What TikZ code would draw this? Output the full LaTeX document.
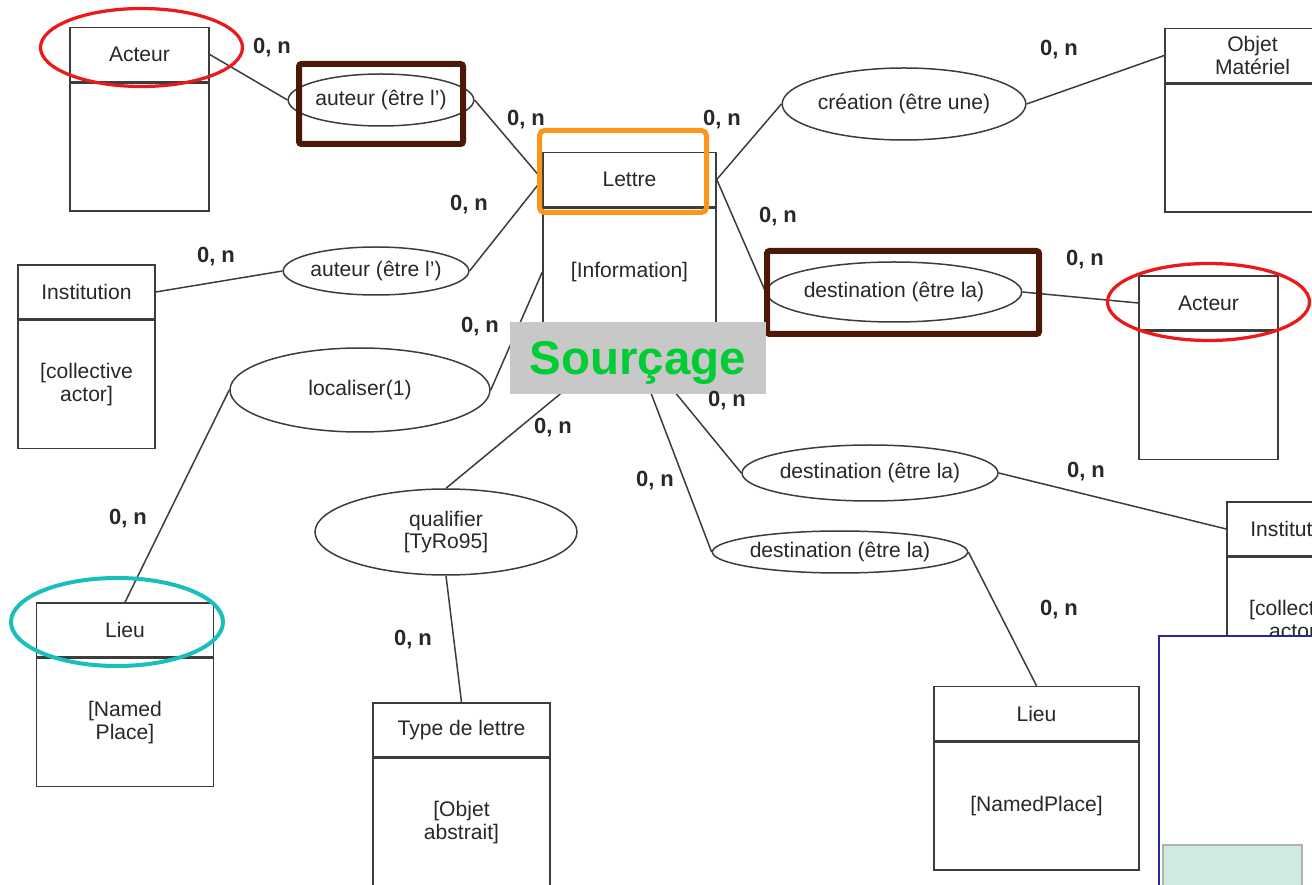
\documentclass[tikz,border=0pt]{standalone}
\usepackage{fontspec}
\setmainfont{Liberation Sans}
\usepackage{xcolor}
\usetikzlibrary{shapes.geometric}
\usetikzlibrary{positioning}

\definecolor{linegray}{RGB}{60,60,60}
\definecolor{textgray}{RGB}{40,40,40}
\definecolor{hlred}{RGB}{235,25,25}
\definecolor{hlbrown}{RGB}{75,25,5}
\definecolor{hlorange}{RGB}{250,150,25}
\definecolor{hlcyan}{RGB}{25,190,190}
\definecolor{srcgreen}{RGB}{0,204,51}
\definecolor{srcgray}{RGB}{200,200,200}
\definecolor{framenavy}{RGB}{40,40,150}
\definecolor{tealfill}{RGB}{208,234,224}

\newcommand{\pxu}{0.2mm}

\begin{document}
\begin{tikzpicture}[x=0.2mm, y=-0.2mm]

% Define styles
\tikzset{
    ehead/.style={draw=linegray, line width=0.3mm, minimum width=#1*\pxu, minimum height=54*\pxu, inner sep=0pt, align=center, text=textgray, font=\fontsize{12}{13}\selectfont},
    ebody/.style={draw=linegray, line width=0.3mm, minimum width=#1*\pxu, minimum height=128*\pxu, inner sep=0pt, align=center, text=textgray, font=\fontsize{12}{13}\selectfont},
    relation/.style n args={2}{draw=linegray, ellipse, line width=0.3mm, minimum width=#1*\pxu, minimum height=#2*\pxu, inner sep=0pt, align=center, text=textgray, font=\fontsize{12}{13}\selectfont},
    link/.style={draw=linegray, line width=0.3mm},
    card/.style={text=textgray, font=\fontsize{12.5}{14}\selectfont\bfseries}
}

% page size
\useasboundingbox (0,0) rectangle (1312,885);
\clip (0,0) rectangle (1312,885);

% entities (header + body)
\node[ehead=139] (acteurLh) at (139.5,54.5) {Acteur};
\node[ebody=139, below=0pt of acteurLh] (acteurLb) {};

\node[ehead=173] (lettreH) at (629.5,179.5) {Lettre};
\node[ebody=173, below=0pt of lettreH] (lettreB) {[Information]};

\node[ehead=175] (objetH) at (1252.5,55.5) {Objet\\Matériel};
\node[ebody=175, below=0pt of objetH] (objetB) {};

\node[ehead=137] (institLh) at (86.5,292) {Institution};
\node[ebody=137, below=0pt of institLh] (institLb) {[collective\\actor]};

\node[ehead=139] (acteurRh) at (1208.5,303) {Acteur};
\node[ebody=139, below=0pt of acteurRh] (acteurRb) {};

\node[ehead=177] (lieuLh) at (125,630) {Lieu};
\node[ebody=177, below=0pt of lieuLh] (lieuLb) {[Named\\Place]};

\node[ehead=177] (typeH) at (461.5,730) {Type de lettre};
\node[ebody=177, below=0pt of typeH] (typeB) {[Objet\\abstrait]};

\node[ehead=205] (lieuRh) at (1036.5,713.5) {Lieu};
\node[ebody=205, below=0pt of lieuRh] (lieuRb) {[NamedPlace]};

\node[ehead=137] (institRh) at (1295.5,529) {Institution};
\node[ebody=137, below=0pt of institRh] (institRb) {[collective\\actor]};

% relations
\node[relation={158}{52}] (auteurA) at (381,100) {auteur (être l')};
\node[relation={178}{48}] (auteurB) at (376,271) {auteur (être l')};
\node[relation={212}{72}] (creation) at (904,104) {création (être une)};
\node[relation={248}{60}] (destA) at (894,292) {destination (être la)};
\node[relation={260}{84}] (localiser) at (360,390) {localiser(1)};
\node[relation={262}{86}] (qualifier) at (446,532) {qualifier\\{[TyRo95]}};
\node[relation={256}{56}] (destB) at (870,473) {destination (être la)};
\node[relation={250}{42}] (destC) at (840,552) {destination (être la)};

% links
\draw[link] (acteurLh.east) -- (auteurA.west);
\draw[link] (auteurA.east) -- (lettreH.west);
\draw[link] (institLh.east) -- (auteurB.west);
\draw[link] (auteurB.east) -- (lettreH.west);
\draw[link] (lettreH.east) -- (creation.west);
\draw[link] (creation.east) -- (objetH.west);
\draw[link] (lettreH.east) -- (destA.west);
\draw[link] (destA.east) -- (acteurRh.west);
\draw[link] (lettreB.west) -- (localiser.east);
\draw[link] (localiser.west) -- (lieuLh.north);
\draw[link] (lettreB.south) -- (qualifier.north);
\draw[link] (qualifier.south) -- (typeH.north);
\draw[link] (lettreB.south) -- (destB.west);
\draw[link] (destB.east) -- (institRh.west);
\draw[link] (lettreB.south) -- (destC.west);
\draw[link] (destC.east) -- (lieuRh.north);

% highlights
\draw[hlred, line width=0.65mm] (141.5,47.5) ellipse [x radius=101, y radius=39];
\draw[hlred, line width=0.65mm] (1208.5,302) ellipse [x radius=101, y radius=38.5];
\draw[hlcyan, line width=0.8mm] (117,622) ellipse [x radius=106, y radius=44];
\draw[hlbrown, line width=1.2mm, rounded corners=0.5mm] (299,64) rectangle (463,144);
\draw[hlbrown, line width=1.2mm, rounded corners=0.5mm] (767,251) rectangle (1039,334);
\draw[hlorange, line width=1mm, rounded corners=1mm] (539.5,130.5) rectangle (706.5,212.5);

% title
\node[fill=srcgray, minimum width=256*\pxu, minimum height=72*\pxu, inner sep=0pt, text depth=0pt, text=srcgreen, font=\fontsize{27}{30}\selectfont\bfseries] (sourcage) at (638,358) {Sourçage};

% cardinalities
\foreach \i/\xx/\yy in {1/272/48, 2/526/120, 3/722/120, 4/1059/50, 5/469/205, 6/778/217, 7/216/257, 8/1085/260, 9/480/327, 10/727/401, 11/553/428, 12/655/481, 13/1086/472, 14/128/519, 15/413/640, 16/1059/610}
    \node[card] (card\i) at (\xx,\yy) {0, n};

% overlapping frame bottom right
\draw[framenavy, fill=white, line width=0.25mm] (1159,636) rectangle (1330,900);
\draw[linegray!40, fill=tealfill, line width=0.3mm] (1163,845) rectangle (1302,900);

\end{tikzpicture}
\end{document}
